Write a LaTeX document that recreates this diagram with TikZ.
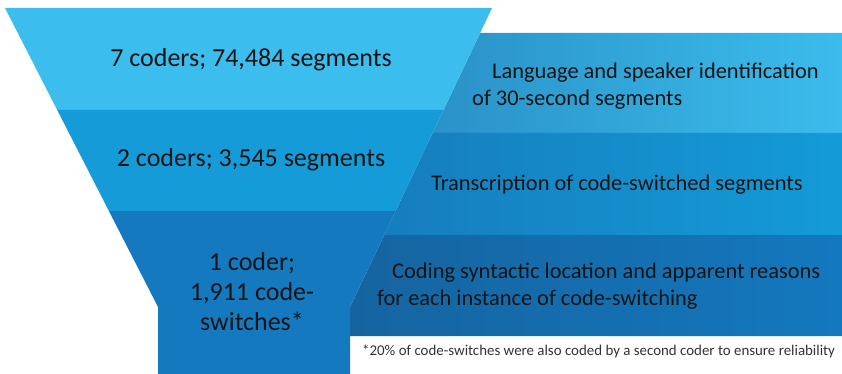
\documentclass[tikz,border=0pt]{standalone}
\usepackage{fontspec}
\setmainfont{Carlito}
\definecolor{bandA}{HTML}{3BBDEE}
\definecolor{bandB}{HTML}{159CD8}
\definecolor{bandC}{HTML}{1479BF}
\definecolor{panelAleft}{HTML}{2A92C8}
\definecolor{panelAright}{HTML}{3BBCEC}
\definecolor{panelBleft}{HTML}{167DBE}
\definecolor{panelBright}{HTML}{149BD7}
\definecolor{panelCleft}{HTML}{1564A0}
\definecolor{panelCright}{HTML}{1478BE}
\definecolor{ink}{HTML}{141414}
\definecolor{noteink}{HTML}{333333}
\begin{document}
\begin{tikzpicture}[x=1pt,y=-1pt]
\tikzset{
  funneltext/.style={font=\fontsize{26}{30}\selectfont, text=ink, align=center, inner sep=0pt},
  paneltext/.style={font=\fontsize{22.4}{27}\selectfont, text=ink, align=left, inner sep=0pt},
  notetext/.style={font=\fontsize{14.9}{17}\selectfont, text=noteink, inner sep=0pt},
}
\useasboundingbox (0,0) rectangle (842,374);
\fill[white] (0,0) rectangle (842,374);

% step panels behind the funnel, left edges on the funnel's right slope
\shade[left color=panelAleft, right color=panelAright]
  (480.1,33) -- (842,33) -- (842,133) -- (432.6,133) -- cycle;
\shade[left color=panelBleft, right color=panelBright]
  (432.6,133) -- (842,133) -- (842,235) -- (384.2,235) -- cycle;
\shade[left color=panelCleft, right color=panelCright]
  (384.2,235) -- (842,235) -- (842,336) -- (350,336) -- (350,307) -- cycle;

% funnel bands
\fill[bandA] (5,8) -- (492,8) -- (443.5,110) -- (57.2,110) -- cycle;
\fill[bandB] (57.2,110) -- (443.5,110) -- (395.6,211) -- (108.9,211) -- cycle;
\fill[bandC] (108.9,211) -- (395.6,211) -- (350,307) -- (350,374)
  -- (158,374) -- (158,307) -- cycle;

% funnel labels
\node[funneltext] (f1) at (251,60) {7 coders; 74,484 segments};
\node[funneltext] (f2) at (251,160) {2 coders; 3,545 segments};
\node[funneltext] (f3) at (252,292) {1 coder;\\1,911 code-\\switches*};

% panel labels
\node[paneltext, anchor=west] (p1) at (472,86.5)
  {\hspace*{20pt}Language and speaker identification\\of 30-second segments};
\node[paneltext] (p2) at (617,185) {Transcription of code-switched segments};
\node[paneltext, anchor=west] (p3) at (377,286.5)
  {\hspace*{15pt}Coding syntactic location and apparent reasons\\for each instance of code-switching};

% footnote
\node[notetext, anchor=west] (note) at (362,351)
  {*20\% of code-switches were also coded by a second coder to ensure reliability};
\end{tikzpicture}
\end{document}
